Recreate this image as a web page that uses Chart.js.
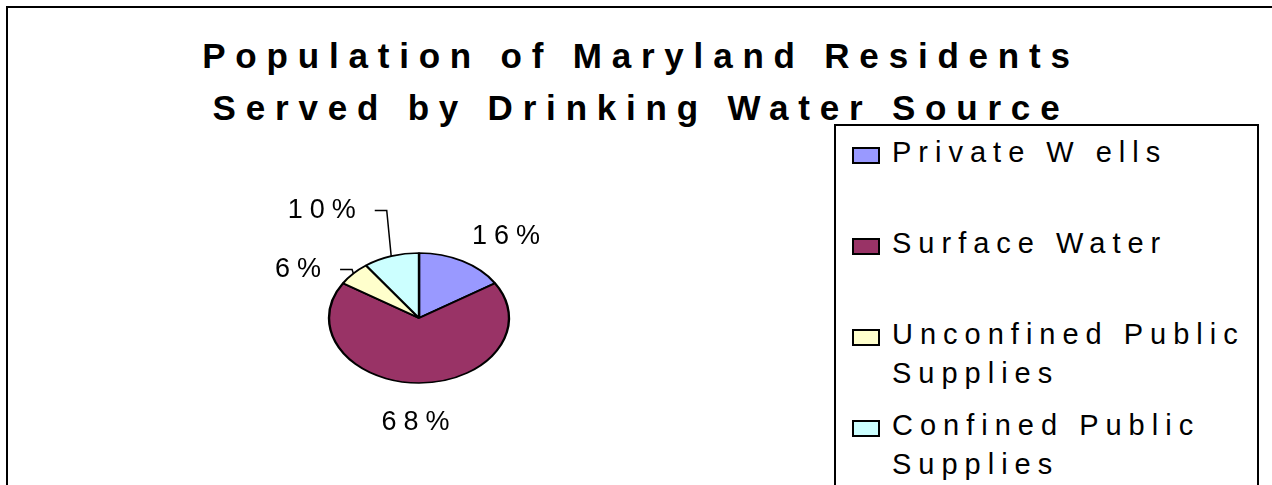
<!DOCTYPE html>
<html>
<head>
<meta charset="utf-8">
<script src="https://cdn.jsdelivr.net/npm/chart.js@4.4.1/dist/chart.umd.min.js"></script>
<style>
  body { margin: 0; width: 1272px; height: 485px; overflow: hidden; background: #fff;
         font-family: "Liberation Sans", Arial, sans-serif; color: #000; }
  #frame { position: absolute; left: 6px; top: 6px; width: 1400px; height: 600px; border: 2px solid #000; }
  #title { position: absolute; left: 10px; top: 30px; width: 1262px; text-align: center;
           font-weight: bold; font-size: 35px; line-height: 52px; letter-spacing: 9.8px; }
  #chart-box { position: absolute; left: 239px; top: 180px; width: 360px; height: 276px; }
  #legend { position: absolute; left: 834px; top: 124px; width: 421px; height: 500px;
            border: 2px solid #000; background: #fff; }
  .legend-item { position: absolute; left: 16px; width: 400px; height: 91px; }
  .swatch { position: absolute; left: 0; top: 14px; width: 24px; height: 13px; border: 2px solid #000; }
  .legend-text { position: absolute; left: 40px; top: 0; width: 362px; font-size: 29px;
                 line-height: 39px; letter-spacing: 7px; }
</style>
</head>
<body>
<div id="frame"></div>
<div id="title">Population of Maryland Residents<br>Served by Drinking Water Source</div>
<div id="chart-box"><canvas id="myChart-water"></canvas></div>
<div id="legend"></div>
<script>
  // DATA
  const categories = ['Private W ells', 'Surface Water', 'Unconfined Public Supplies', 'Confined Public Supplies'];
  const shares = [16, 68, 6, 10];
  // STYLE
  const sliceColors = ['#9999FF', '#993366', '#FFFFCC', '#CCFFFF'];
  const labelGaps = [20, 26, 6, 48];
  const SQUASH = 65 / 90; // pie is drawn as flat ellipse
  const LEGEND_ROW = 91;

  let myWaterChart;

  // squash the pie vertically so it looks like the excel ellipse
  const ellipsePlugin = {
    id: 'ellipse',
    beforeDatasetsDraw(chart) {
      const a = chart.chartArea;
      const cx = (a.left + a.right) / 2;
      const cy = (a.top + a.bottom) / 2;
      const ctx = chart.ctx;
      ctx.save();
      ctx.translate(cx, cy);
      ctx.scale(1, SQUASH);
      ctx.translate(-cx, -cy);
    },
    afterDatasetsDraw(chart) {
      chart.ctx.restore();
    }
  };

  // PERCENT LABELS (+ leader lines for small slices)
  const pieLabelPlugin = {
    id: 'pieLabels',
    afterDraw(chart) {
      const ctx = chart.ctx;
      const meta = chart.getDatasetMeta(0);
      const values = chart.data.datasets[0].data;
      const total = values.reduce((s, v) => s + v, 0);
      ctx.save();
      ctx.font = '27px "Liberation Sans", Arial, sans-serif';
      ctx.letterSpacing = '7px';
      ctx.fillStyle = '#000';
      ctx.strokeStyle = '#000';
      ctx.lineWidth = 1.5;
      meta.data.forEach((arc, i) => {
        const p = arc.getProps(['x', 'y', 'startAngle', 'endAngle', 'outerRadius']);
        const mid = (p.startAngle + p.endAngle) / 2;
        const cos = Math.cos(mid);
        const sin = Math.sin(mid);
        const rx = p.outerRadius;
        const ry = p.outerRadius * SQUASH;
        const gap = labelGaps[i];
        const share = values[i] / total;
        const text = Math.round(share * 100) + '%';
        const ex = p.x + rx * cos, ey = p.y + ry * sin;
        const lx = p.x + (rx + gap) * cos, ly = p.y + (ry + gap) * sin;

        if (share < 0.12) {
          const dir = cos < 0 ? -1 : 1;
          const bx = ex + (lx - ex) * 0.3;
          const hx = bx + dir * 12;
          ctx.beginPath();
          ctx.moveTo(ex, ey);
          ctx.lineTo(bx, ly);
          ctx.lineTo(hx, ly);
          ctx.stroke();
          ctx.textAlign = dir < 0 ? 'right' : 'left';
          ctx.textBaseline = 'middle';
          ctx.fillText(text, hx + dir * 12, ly);
        } else {
          ctx.textAlign = cos > 0.3 ? 'left' : (cos < -0.3 ? 'right' : 'center');
          ctx.textBaseline = sin < -0.3 ? 'alphabetic' : (sin > 0.3 ? 'top' : 'middle');
          ctx.fillText(text, lx, ly);
        }
      });
      ctx.restore();
    }
  };

  // HTML LEGEND built from chart data
  const htmlLegendPlugin = {
    id: 'htmlLegend',
    afterUpdate(chart) {
      const box = document.getElementById('legend');
      box.innerHTML = '';
      const ds = chart.data.datasets[0];
      chart.data.labels.forEach((label, i) => {
        const item = document.createElement('div');
        item.className = 'legend-item';
        item.style.top = (7 + i * LEGEND_ROW) + 'px';
        const sw = document.createElement('div');
        sw.className = 'swatch';
        sw.style.background = ds.backgroundColor[i];
        const txt = document.createElement('div');
        txt.className = 'legend-text';
        txt.textContent = label;
        item.appendChild(sw);
        item.appendChild(txt);
        box.appendChild(item);
      });
    }
  };

  function createPieChart() {
    const ctx = document.getElementById('myChart-water').getContext('2d');
    myWaterChart = new Chart(ctx, {
      type: 'pie',
      data: {
        labels: categories,
        datasets: [{
          data: shares,
          backgroundColor: sliceColors,
          borderColor: '#000',
          borderWidth: 2.4,
          radius: 90
        }]
      },
      options: {
        responsive: true,
        maintainAspectRatio: false,
        animation: false,
        events: [],
        layout: { padding: 0 },
        plugins: {
          legend: { display: false },
          tooltip: { enabled: false },
          title: { display: false }
        }
      },
      plugins: [ellipsePlugin, pieLabelPlugin, htmlLegendPlugin]
    });
  }

  window.onload = function() {
    createPieChart();
  };
</script>
</body>
</html>
